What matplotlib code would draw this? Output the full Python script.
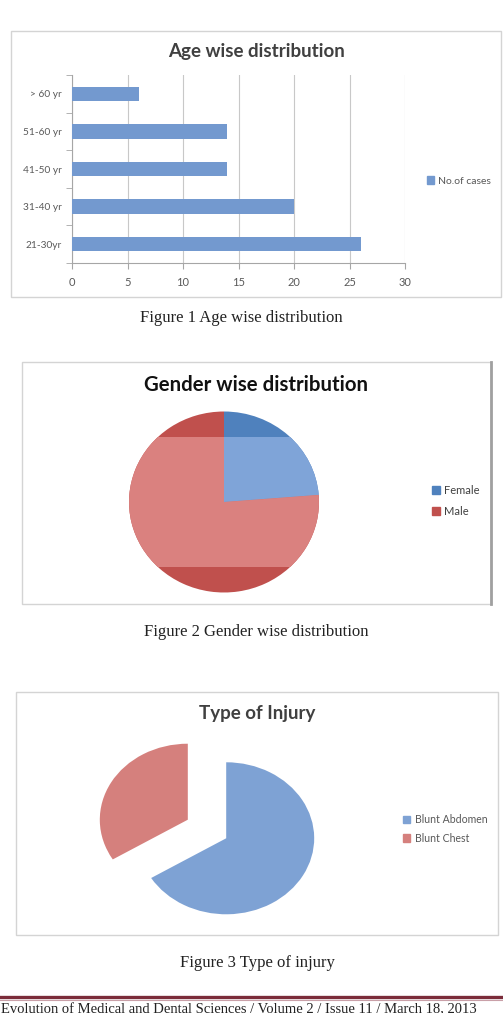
import matplotlib
matplotlib.use('Agg')
import matplotlib.pyplot as plt
from matplotlib.patches import Rectangle, Patch

# data
age_groups = ['21-30yr', '31-40 yr', '41-50 yr', '51-60 yr', '> 60 yr']
age_cases = [26, 20, 14, 14, 6]

gender_labels = ['Female', 'Male']
gender_cases = [19, 61]

injury_labels = ['Blunt Abdomen', 'Blunt Chest']
injury_cases = [53, 27]

W, H = 503, 1013
fig = plt.figure(figsize=(W / 100, H / 100), dpi=100)
fig.patch.set_facecolor('white')


def box(x0, y0, x1, y1):
    # pixel box (top-left origin) -> figure fraction rect
    return [x0 / W, 1 - y1 / H, (x1 - x0) / W, (y1 - y0) / H]


def fx(x):
    return x / W


def fy(y):
    return 1 - y / H


def frame(x0, y0, x1, y1, color='#d4d4d4', lw=1.0):
    fig.add_artist(Rectangle((fx(x0), fy(y1)), (x1 - x0) / W, (y1 - y0) / H,
                             transform=fig.transFigure, fill=False,
                             edgecolor=color, linewidth=lw))


def pie_axes(cx, cy, rx, ry, w, h):
    ax = fig.add_axes(box(cx - w / 2, cy - h / 2, cx + w / 2, cy + h / 2))
    ax.patch.set_alpha(0)
    return ax, (w / 2 / rx, h / 2 / ry)


def fix_pie(ax, lims):
    ax.set_aspect('auto')
    ax.set_xlim(-lims[0], lims[0])
    ax.set_ylim(-lims[1], lims[1])
    ax.axis('off')


sans = 'Lato'
serif = 'Liberation Serif'

# ---------------- Figure 1: age wise ----------------
frame(11, 31, 501, 297)
fig.text(fx(256), fy(52), 'Age wise distribution', ha='center', va='center',
         fontsize=13.5, fontweight='bold', color='#404040', family=sans)

ax1 = fig.add_axes(box(72, 75, 405, 263))
bars = ax1.barh(range(len(age_groups)), age_cases, height=0.38, color='#7399cf', zorder=3)
ax1.set_xlim(0, 30)
ax1.set_ylim(-0.5, len(age_groups) - 0.5)
ax1.set_xticks(range(0, 31, 5))
ax1.set_yticks(range(len(age_groups)))
ax1.set_yticklabels(age_groups)
ax1.set_yticks([i - 0.5 for i in range(len(age_groups) + 1)], minor=True)
ax1.tick_params(axis='y', which='major', length=0, pad=7.5, labelsize=7.3)
ax1.tick_params(axis='y', which='minor', length=4, color='#a6a6a6')
ax1.tick_params(axis='x', length=4, color='#a6a6a6', pad=6, labelsize=8)
ax1.tick_params(labelcolor='#595959')
for lab in ax1.get_xticklabels() + ax1.get_yticklabels():
    lab.set_family(sans)
ax1.grid(axis='x', color='#c8c8c8', linewidth=0.8, zorder=0)
for s in ['top', 'right']:
    ax1.spines[s].set_visible(False)
for s in ['left', 'bottom']:
    ax1.spines[s].set_color('#a6a6a6')
    ax1.spines[s].set_linewidth(0.8)
fig.legend([Patch(color='#7399cf')], ['No.of cases'], loc='center left',
           bbox_to_anchor=(fx(427), fy(181)), frameon=False,
           labelcolor='#595959', handlelength=0.7, handleheight=0.7,
           handletextpad=0.4, borderpad=0, borderaxespad=0, prop={'family': sans, 'size': 7.5})
fig.text(fx(241), fy(318), 'Figure 1 Age wise distribution', ha='center', va='center',
         fontsize=12, family=serif, color='#222222')

# ---------------- Figure 2: gender wise ----------------
frame(22, 362, 491, 604)
fig.add_artist(plt.Line2D([fx(491), fx(491)], [fy(362), fy(604)],
                          transform=fig.transFigure, color='#a0a0a0', linewidth=2))
fig.text(fx(256), fy(385), 'Gender wise distribution', ha='center', va='center',
         fontsize=14.7, fontweight='bold', color='#111111', family=sans)

ax2, lims2 = pie_axes(224, 502, 95, 90.5, 220, 200)
dark2 = ['#4f81bd', '#c0504d']
light2 = ['#7fa4d8', '#da817f']
ax2.pie(gender_cases, colors=dark2, startangle=90, counterclock=False,
        wedgeprops={'linewidth': 0})
w_light, _ = ax2.pie(gender_cases, colors=light2, startangle=90, counterclock=False,
                     wedgeprops={'linewidth': 0})
fix_pie(ax2, lims2)
band = Rectangle((-1.2, -0.72), 2.4, 1.44, transform=ax2.transData)
for wdg in w_light:
    wdg.set_clip_on(True)
    wdg.set_clip_path(band)
fig.legend([Patch(color=c) for c in dark2], gender_labels, loc='center left',
           bbox_to_anchor=(fx(432), fy(501)), frameon=False,
           labelcolor='#404040', handlelength=0.7, handleheight=0.7,
           handletextpad=0.4, labelspacing=0.9, borderpad=0, borderaxespad=0,
           prop={'family': sans, 'size': 8})
fig.text(fx(256), fy(632), 'Figure 2 Gender wise distribution', ha='center', va='center',
         fontsize=12, family=serif, color='#222222')

# ---------------- Figure 3: type of injury ----------------
frame(16, 692, 498, 935)
fig.text(fx(257), fy(713), 'Type of Injury', ha='center', va='center',
         fontsize=13.5, fontweight='bold', color='#404040', family=sans)

ax3, lims3 = pie_axes(207, 829, 88, 76, 260, 220)
colors3 = ['#7ea2d4', '#d5807d']
ax3.pie(injury_cases, colors=colors3, startangle=90, counterclock=False,
        explode=[0.25, 0.25], wedgeprops={'linewidth': 0})
fix_pie(ax3, lims3)
fig.legend([Patch(color=c) for c in colors3], injury_labels, loc='center left',
           bbox_to_anchor=(fx(403), fy(829)), frameon=False,
           labelcolor='#595959', handlelength=0.7, handleheight=0.7,
           handletextpad=0.4, labelspacing=0.7, borderpad=0, borderaxespad=0,
           prop={'family': sans, 'size': 7.6})
fig.text(fx(257), fy(963), 'Figure 3 Type of injury', ha='center', va='center',
         fontsize=12, family=serif, color='#222222')

# ---------------- page footer ----------------
fig.add_artist(plt.Line2D([0, 1], [fy(996.5), fy(996.5)], transform=fig.transFigure,
                          color='#7b2c3a', linewidth=2.4))
fig.add_artist(plt.Line2D([0, 1], [fy(999.5), fy(999.5)], transform=fig.transFigure,
                          color='#c9a0a8', linewidth=0.8))
fig.text(fx(1), fy(1003), 'Evolution of Medical and Dental Sciences / Volume 2 / Issue 11 / March 18, 2013',
         ha='left', va='top', fontsize=10.5, family=serif, color='#222222')

fig.savefig('out.png', dpi=100)
